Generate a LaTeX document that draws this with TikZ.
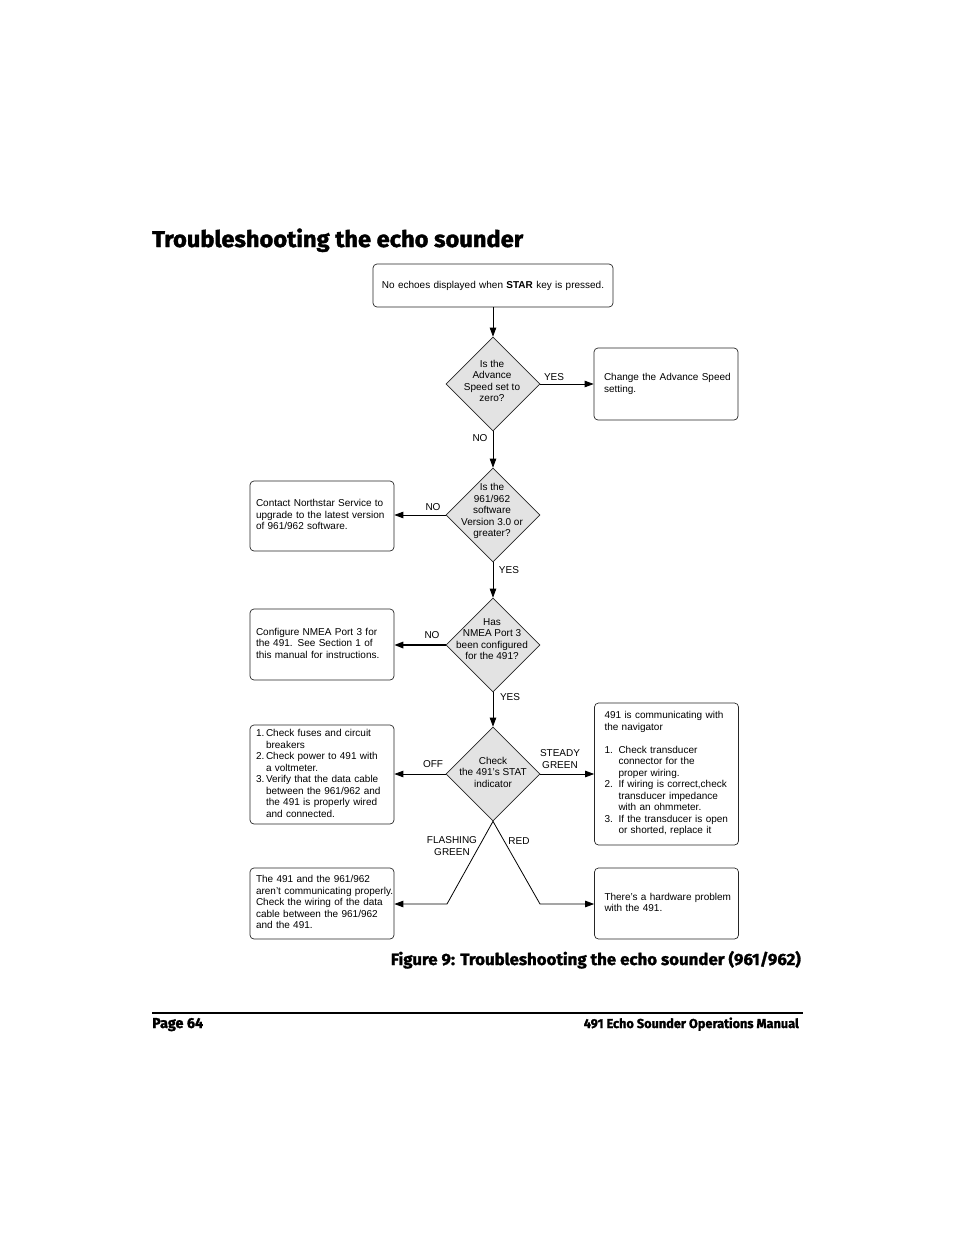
\documentclass[tikz,border=0pt]{standalone}
\usepackage{fontspec}
\setmainfont{Liberation Sans}
\newfontfamily\headfont[BoldFeatures={FakeBold=1.6}]{Fira Sans}
\usepackage{graphicx}
\usetikzlibrary{shapes.geometric,arrows.meta}

\newcommand{\boxfont}{\fontsize{10}{11.5}\selectfont}
\newcommand{\headtext}[3]{\resizebox{#1}{#2}{\headfont\bfseries #3}}
\newcommand{\boxlines}[1]{\begin{tabular}{@{}l@{}}#1\end{tabular}}

\begin{document}
\begin{tikzpicture}[x=1pt,y=-1pt,
    box/.style={draw=black!85, line width=0.7pt, rounded corners=4pt, font=\boxfont, align=left, inner xsep=6pt, text width=132pt, minimum width=144pt, minimum height=71pt},
    rbox/.style={box, inner xsep=10pt, text width=124pt},
    decision/.style={diamond, draw=black!85, line width=0.7pt, fill=black!11, minimum width=94pt, minimum height=94pt, inner sep=0pt},
    qtext/.style={font=\boxfont, align=center, inner sep=0pt},
    tag/.style={font=\boxfont, align=center, inner sep=0pt},
    flow/.style={line width=0.8pt, -{Triangle[length=9pt,width=6.5pt]}}]
    \useasboundingbox (0,0) rectangle (954,1235);

    \node[anchor=base west, inner sep=0pt] (title) at (152,247) {\headtext{371pt}{18.5pt}{Troubleshooting the echo sounder}};

    % boxes and decisions
    \node[box, align=center, text width=228pt, minimum width=240pt, minimum height=43pt] (start) at (493,285.5) {No echoes displayed when \textbf{STAR} key is pressed.};

    \node[decision] (d1) at (493,384) {};
    \node[qtext] (q1) at (492,381) {Is the\\Advance\\Speed set to\\zero?};
    \node[rbox, minimum height=72pt] (b2) at (666,384) {\raisebox{3pt}{\boxlines{Change the Advance Speed\\setting.}}};

    \node[decision] (d2) at (493,515) {};
    \node[qtext] (q2) at (492,511) {Is the\\961/962\\software\\Version 3.0 or\\greater?};
    \node[box, minimum height=70pt] (b3) at (322,516) {\boxlines{Contact Northstar Service to\\upgrade to the latest version\\of 961/962 software.}};

    \node[decision] (d3) at (493,645) {};
    \node[qtext] (q3) at (492,639) {Has\\NMEA Port 3\\been configured\\for the 491?};
    \node[box] (b4) at (322,644.5) {\boxlines{Configure NMEA Port 3 for\\the 491. See Section 1 of\\this manual for instructions.}};

    \node[decision] (d4) at (493,774) {};
    \node[qtext] (q4) at (493,772) {Check\\the 491's STAT\\indicator};
    \node[box, minimum height=99pt] (b5) at (322,774.5) {\begin{tabular}{@{}p{10pt}@{}l@{}}
      1.&Check fuses and circuit\\&breakers\\
      2.&Check power to 491 with\\&a voltmeter.\\
      3.&Verify that the data cable\\&between the 961/962 and\\&the 491 is properly wired\\&and connected.
    \end{tabular}};
    \node[rbox, minimum height=142pt] (b6) at (666.5,774) {\begin{tabular}{@{}p{14pt}@{}l@{}}
      \multicolumn{2}{@{}l@{}}{491 is communicating with}\\
      \multicolumn{2}{@{}l@{}}{the navigator}\\&\\
      1.&Check transducer\\&connector for the\\&proper wiring.\\
      2.&If wiring is correct,check\\&transducer impedance\\&with an ohmmeter.\\
      3.&If the transducer is open\\&or shorted, replace it
    \end{tabular}};

    \node[box] (b7) at (322,903.5) {\boxlines{The 491 and the 961/962\\aren't communicating properly.\\Check the wiring of the data\\cable between the 961/962\\and the 491.}};
    \node[rbox] (b8) at (666.5,903.5) {\boxlines{There's a hardware problem\\with the 491.}};

    % connectors
    \draw[flow] (start) -- (d1);
    \draw[flow] (d1) -- (b2);
    \draw[flow] (d1) -- (d2);
    \draw[flow] (d2.west) -- (d2.west -| b3.east);
    \draw[flow] (d2) -- (d3);
    \draw[flow, line width=1.6pt] (d3.west) -- (d3.west -| b4.east);
    \draw[flow] (d3) -- (d4);
    \draw[flow] (d4.west) -- (d4.west -| b5.east);
    \draw[flow] (d4) -- (b6);
    \coordinate (fg) at (447,904);
    \coordinate (rd) at (540,904);
    \draw[flow] (d4.south) -- (fg) -- (fg -| b7.east);
    \draw[flow] (d4.south) -- (rd) -- (rd -| b8.west);

    % answers
    \node[tag] (yes1) at (554,377) {YES};
    \node[tag] (no1) at (480,438) {NO};
    \node[tag] (no2) at (433,507) {NO};
    \node[tag] (yes2) at (509,570) {YES};
    \node[tag] (no3) at (432,635) {NO};
    \node[tag] (yes3) at (510,697) {YES};
    \node[tag] (off) at (433,764) {OFF};
    \node[tag] (steady) at (560,759) {STEADY\\GREEN};
    \node[tag] (flash) at (452,846) {FLASHING\\GREEN};
    \node[tag] (red) at (519,841) {RED};

    % caption and footer
    \node[anchor=base east, inner sep=0pt] (caption) at (801,965) {\headtext{410pt}{14pt}{Figure 9: Troubleshooting the echo sounder (961/962)}};
    \draw[line width=2pt] (152,1013) -- (803,1013);
    \node[anchor=base west, inner sep=0pt] (page) at (152,1028) {\headtext{51pt}{10pt}{Page 64}};
    \node[anchor=base east, inner sep=0pt] (manual) at (799,1028) {\headtext{215pt}{10.5pt}{491 Echo Sounder Operations Manual}};
\end{tikzpicture}
\end{document}
